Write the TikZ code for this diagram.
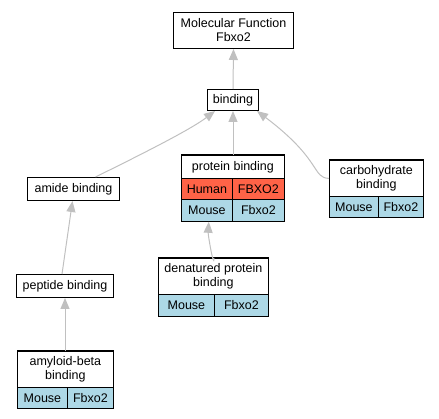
\documentclass[tikz,border=0pt]{standalone}
\usepackage{fontspec}
\setmainfont{Liberation Sans}
\usetikzlibrary{arrows.meta}
\definecolor{edgegray}{RGB}{192,192,192}
\definecolor{human}{RGB}{255,99,71}
\definecolor{mouse}{RGB}{173,216,230}
\tikzset{
 box/.style={draw=black, line width=1pt, fill=white, inner sep=0pt, anchor=north west, align=center, font=\fontsize{12.5}{14}\selectfont},
 cell/.style={box, line width=0.8pt},
 hcell/.style={cell, fill=human},
 mcell/.style={cell, fill=mouse},
 frame/.style={draw=black, line width=1pt},
 link/.style={draw=edgegray, line width=1pt, -{Triangle[length=11pt,width=9pt]}},
}
\begin{document}
\begin{tikzpicture}[x=1pt,y=-1pt]
\useasboundingbox (0,0) rectangle (439,419);
% simple boxes
\node[box, minimum width=120pt, minimum height=36pt] (mf) at (173,12) {Molecular Function\\Fbxo2};
\node[box, minimum width=51pt, minimum height=21pt] (bind) at (207,89) {binding};
\node[box, minimum width=92pt, minimum height=23pt] (amide) at (27,177) {amide binding};
\node[box, minimum width=97pt, minimum height=23pt] (pep) at (16,274) {peptide binding};
% protein binding table
\node[cell, minimum width=103pt, minimum height=23pt] (pbh) at (181,155) {protein binding};
\node[hcell, minimum width=51pt, minimum height=21pt] (pbhs) at (181,178) {Human};
\node[hcell, minimum width=52pt, minimum height=21pt] (pbhg) at (232,178) {FBXO2};
\node[mcell, minimum width=51pt, minimum height=22pt] (pbms) at (181,199) {Mouse};
\node[mcell, minimum width=52pt, minimum height=22pt] (pbmg) at (232,199) {Fbxo2};
\draw[frame] (pbh.north west) rectangle (pbmg.south east);
% carbohydrate binding table
\node[cell, minimum width=94pt, minimum height=36pt] (cbh) at (329,160) {carbohydrate\\binding};
\node[mcell, minimum width=49pt, minimum height=21pt] (cbms) at (329,196) {Mouse};
\node[mcell, minimum width=45pt, minimum height=21pt] (cbmg) at (378,196) {Fbxo2};
\draw[frame] (cbh.north west) rectangle (cbmg.south east);
% denatured protein binding table
\node[cell, minimum width=110pt, minimum height=36pt] (dph) at (158,258) {denatured protein\\binding};
\node[mcell, minimum width=56pt, minimum height=22pt] (dpms) at (158,294) {Mouse};
\node[mcell, minimum width=54pt, minimum height=22pt] (dpmg) at (214,294) {Fbxo2};
\draw[frame] (dph.north west) rectangle (dpmg.south east);
% amyloid-beta binding table
\node[cell, minimum width=96pt, minimum height=36pt] (abh) at (17,351) {amyloid-beta\\binding};
\node[mcell, minimum width=50pt, minimum height=21pt] (abms) at (17,387) {Mouse};
\node[mcell, minimum width=46pt, minimum height=21pt] (abmg) at (67,387) {Fbxo2};
\draw[frame] (abh.north west) rectangle (abmg.south east);
% edges
\draw[link] (bind.north) -- (mf.south);
\draw[link] (pbh.north -| bind.south) -- (bind.south);
\draw[link] ([xshift=22pt]amide.north) .. controls (140,155) and (190,130) .. ([xshift=8pt]bind.south west);
\draw[link] (cbh.west) .. controls (312,178) and (322,160) .. ([xshift=-2pt]bind.south east);
\draw[link] ([xshift=-3pt]pep.north) -- ([xshift=-1pt]amide.south);
\draw[link] (abh.north -| pep.south) -- (pep.south);
\draw[link] (dph.north -| dpmg.north west) .. controls ([yshift=-12pt]dph.north -| dpmg.north west) and (208,235) .. ([xshift=-24pt]pbms.south east);
\end{tikzpicture}
\end{document}
